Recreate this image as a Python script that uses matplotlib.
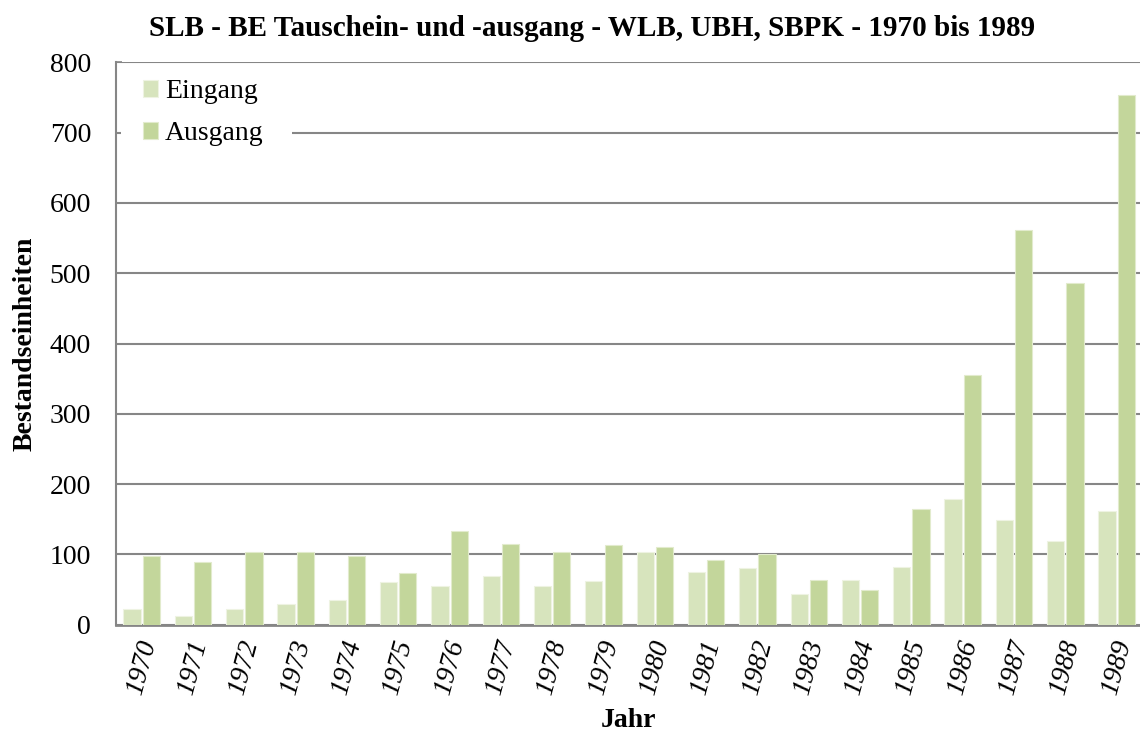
import matplotlib
matplotlib.use("Agg")
import matplotlib.pyplot as plt
import matplotlib.transforms as mtransforms
from matplotlib.patches import Rectangle
import numpy as np

years = ["1970", "1971", "1972", "1973", "1974", "1975", "1976", "1977", "1978", "1979",
         "1980", "1981", "1982", "1983", "1984", "1985", "1986", "1987", "1988", "1989"]
eingang = [22, 13, 22, 30, 35, 61, 55, 69, 55, 62, 104, 75, 80, 43, 64, 82, 179, 149, 119, 162]
ausgang = [98, 89, 103, 104, 98, 73, 133, 115, 104, 113, 111, 92, 100, 64, 49, 164, 355, 562, 486, 753]
yticks = [0, 100, 200, 300, 400, 500, 600, 700, 800]

plt.rcParams['font.family'] = ['Liberation Serif', 'DejaVu Serif']

fig = plt.figure(figsize=(11.4, 7.33), dpi=100)
ax = fig.add_axes([116/1140, 1 - 624.7/733, 1 - 116/1140 + 0.002, (624.7 - 62.3)/733])

x = np.arange(len(years))
w = 0.335
gap = 0.04
ax.bar(x - w/2 - gap/2, eingang, width=w, color='#D7E4BD', edgecolor='#EEF3E2', linewidth=0.8,
       label='Eingang', zorder=3)
ax.bar(x + w/2 + gap/2, ausgang, width=w, color='#C3D69B', edgecolor='#E2EBCD', linewidth=0.8,
       label='Ausgang', zorder=3)

ax.set_xlim(-0.5, len(years) - 0.5)
ax.set_ylim(0, 800)
ax.set_yticks(yticks)
ax.set_yticklabels([str(t) for t in yticks], fontsize=20)
ax.set_xticks(x)
ax.set_xticklabels(years, fontsize=20, style='italic', rotation=75, ha='center')
offset = mtransforms.ScaledTranslation(-5/100, 0, fig.dpi_scale_trans)
for lbl in ax.get_xticklabels():
    lbl.set_transform(lbl.get_transform() + offset)
ax.tick_params(axis='x', length=0, pad=9)
ax.tick_params(axis='y', length=4, width=1.2, color='#868686', direction='in', pad=18)

ax.grid(axis='y', color='#868686', linewidth=1.5, zorder=0)
ax.set_axisbelow(True)
for s in ['top', 'right']:
    ax.spines[s].set_visible(False)
ax.spines['left'].set_color('#868686')
ax.spines['left'].set_linewidth(1.5)
ax.spines['bottom'].set_color('#868686')
ax.spines['bottom'].set_linewidth(2.0)

ax.set_ylabel('Bestandseinheiten', fontsize=20, fontweight='bold')
ax.yaxis.set_label_coords((38 - 116) / 1026, 0.5)
ax.set_xlabel('Jahr', fontsize=20, fontweight='bold')
ax.xaxis.set_label_coords((628 - 116) / 1026, (624.7 - 708) / 562.4)
fig.text(592/1140, 1 - 29/733, 'SLB - BE Tauschein- und -ausgang - WLB, UBH, SBPK - 1970 bis 1989',
         ha='center', va='center', fontsize=21, fontweight='bold')

# white legend background covering gridline
bg = Rectangle((5/1026, 0.0), (292 - 121)/1026, 1.0, facecolor='white', edgecolor='none',
               transform=mtransforms.blended_transform_factory(ax.transAxes, ax.transData),
               zorder=1)
bg.set_height(90)
bg.set_y(660)
ax.add_patch(bg)

leg = ax.legend(loc='upper left', bbox_to_anchor=(0.018, 0.985), frameon=False, fontsize=20,
                handlelength=0.55, handleheight=0.55, handletextpad=0.25, labelspacing=0.62,
                borderaxespad=0.0, borderpad=0.3)
leg.set_zorder(5)

fig.savefig('out.png', dpi=100)
